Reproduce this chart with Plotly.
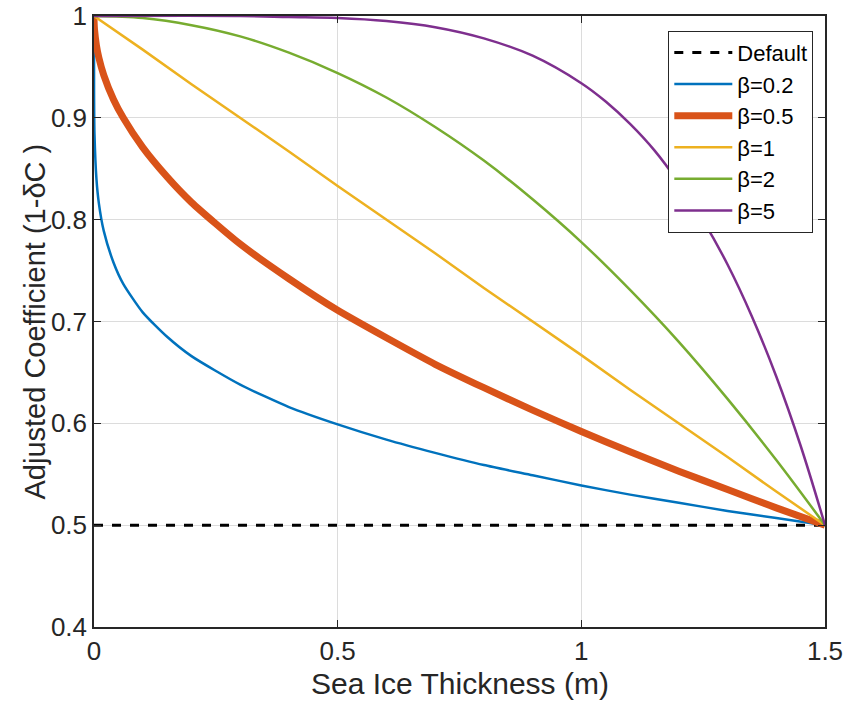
import plotly.graph_objects as go

# ---- data ----
x_fine = [0, 0.0001, 0.0003, 0.001, 0.005, 0.01, 0.02, 0.04, 0.06, 0.1, 0.15, 0.2, 0.3, 0.4, 0.5,
          0.6, 0.7, 0.8, 0.9, 1.0, 1.1, 1.2, 1.3, 1.4, 1.5]
beta02 = [1.0, 0.927, 0.909, 0.884, 0.840, 0.816, 0.789, 0.758, 0.737, 0.709, 0.685, 0.666, 0.638,
          0.616, 0.599, 0.584, 0.571, 0.559, 0.549, 0.539, 0.530, 0.522, 0.514, 0.507, 0.500]
beta05 = [1.0, 0.996, 0.993, 0.987, 0.971, 0.959, 0.942, 0.918, 0.900, 0.871, 0.842, 0.817, 0.776,
          0.742, 0.711, 0.684, 0.658, 0.635, 0.613, 0.592, 0.572, 0.553, 0.535, 0.517, 0.500]

x_mid = [0, 0.1, 0.2, 0.3, 0.4, 0.5, 0.6, 0.7, 0.8, 0.9, 1.0, 1.1, 1.2, 1.3, 1.4, 1.5]
beta1 = [1.0, 0.967, 0.933, 0.900, 0.867, 0.833, 0.800, 0.767, 0.733, 0.700, 0.667, 0.633, 0.600,
         0.567, 0.533, 0.500]
beta2 = [1.0, 0.998, 0.991, 0.980, 0.964, 0.944, 0.920, 0.891, 0.858, 0.820, 0.778, 0.731, 0.680,
         0.624, 0.564, 0.500]

x_end = [0, 0.3, 0.4, 0.5, 0.6, 0.7, 0.8, 0.9, 1.0, 1.05, 1.1, 1.15, 1.2, 1.25, 1.3, 1.35, 1.4,
         1.45, 1.5]
beta5 = [1.0, 1.0, 0.999, 0.998, 0.995, 0.989, 0.978, 0.961, 0.934, 0.916, 0.894, 0.868, 0.836,
         0.799, 0.756, 0.705, 0.646, 0.578, 0.500]

x_default = [0, 1.5]
default_vals = [0.5, 0.5]

x_ticks = [0, 0.5, 1, 1.5]
x_ticktext = ["0", "0.5", "1", "1.5"]
y_ticks = [0.4, 0.5, 0.6, 0.7, 0.8, 0.9, 1.0]
y_ticktext = ["0.4", "0.5", "0.6", "0.7", "0.8", "0.9", "1"]

x_title = "Sea Ice Thickness (m)"
y_title = "Adjusted Coefficient (1-δC )"

fig = go.Figure()
fig.add_trace(go.Scatter(x=x_default, y=default_vals, mode="lines", name="Default",
                         line=dict(color="black", width=3, dash="dash")))
fig.add_trace(go.Scatter(x=x_fine, y=beta02, mode="lines", name="β=0.2",
                         line=dict(color="#0072BD", width=2.5, shape="spline", smoothing=0.6)))
fig.add_trace(go.Scatter(x=x_fine, y=beta05, mode="lines", name="β=0.5",
                         line=dict(color="#D95319", width=7, shape="spline", smoothing=0.6)))
fig.add_trace(go.Scatter(x=x_mid, y=beta1, mode="lines", name="β=1",
                         line=dict(color="#EDB120", width=2.5)))
fig.add_trace(go.Scatter(x=x_mid, y=beta2, mode="lines", name="β=2",
                         line=dict(color="#77AC30", width=2.5, shape="spline")))
fig.add_trace(go.Scatter(x=x_end, y=beta5, mode="lines", name="β=5",
                         line=dict(color="#7E2F8E", width=2.5, shape="spline")))

font_fam = "Liberation Sans, Arial, sans-serif"
axis_common = dict(showline=True, linecolor="#262626", linewidth=1.5, mirror="ticks",
                   ticks="inside", ticklen=7, tickwidth=1.2, tickcolor="#262626",
                   showgrid=True, gridcolor="#DCDCDC", gridwidth=1, zeroline=False,
                   automargin=False, ticklabeloverflow="allow",
                   tickfont=dict(size=26, color="#262626", family=font_fam))

fig.update_layout(
    width=847, height=709,
    margin=dict(l=94, r=22, t=16, b=82),
    paper_bgcolor="white", plot_bgcolor="white",
    font=dict(family=font_fam, color="#262626"),
    xaxis=dict(range=[0, 1.5], tickvals=x_ticks, ticktext=x_ticktext, **axis_common),
    yaxis=dict(range=[0.4, 1.0], tickvals=y_ticks, ticktext=y_ticktext, **axis_common),
    legend=dict(x=0.984, y=0.976, xanchor="right", yanchor="top",
                bordercolor="#262626", borderwidth=1, bgcolor="white",
                font=dict(size=22, color="black", family=font_fam),
                tracegroupgap=0, itemwidth=58),
    showlegend=True,
    annotations=[
        dict(text=x_title, xref="paper", yref="paper", x=0.5, y=0, xanchor="center",
             yanchor="middle", yshift=-56, showarrow=False,
             font=dict(size=30, color="#262626", family=font_fam)),
        dict(text=y_title, xref="paper", yref="paper", x=0, y=0.5, xanchor="center",
             yanchor="middle", xshift=-60, textangle=-90, showarrow=False,
             font=dict(size=29, color="#262626", family=font_fam)),
    ],
)

fig.write_html("out.html", config={"displayModeBar": False},
               post_script="document.body.style.margin='0';document.body.style.overflow='hidden';")
